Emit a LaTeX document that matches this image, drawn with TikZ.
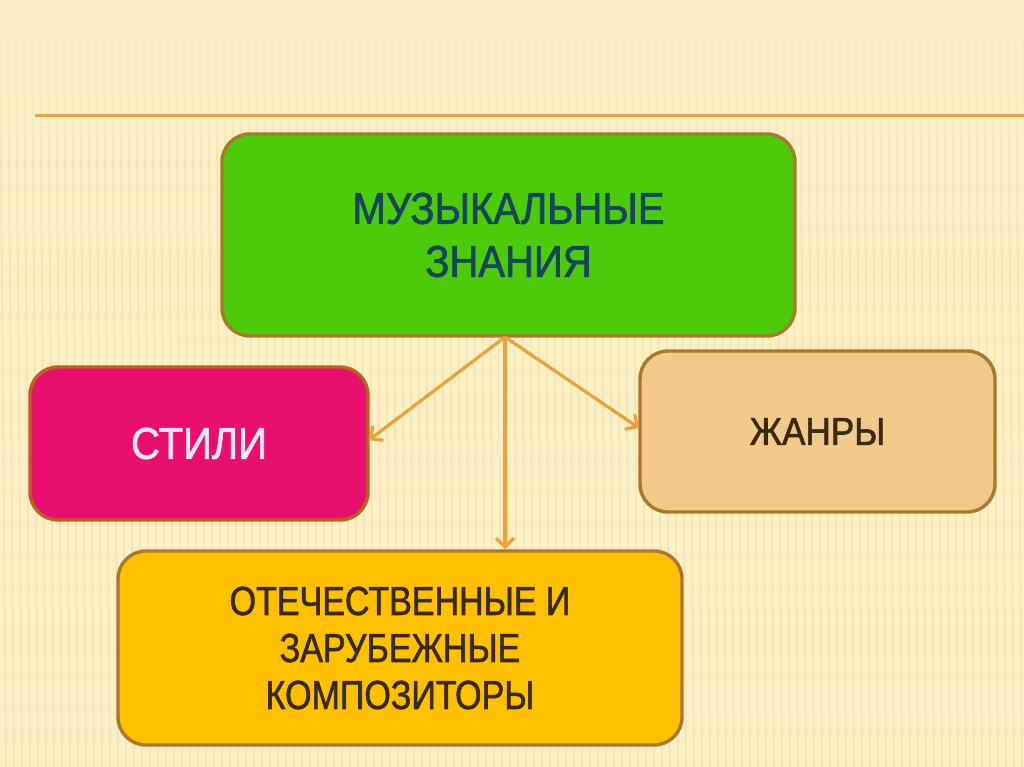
\documentclass[tikz,border=0pt]{standalone}
\usepackage{fontspec}
\setmainfont{Liberation Sans}
\newfontfamily\narrowa[FakeStretch=0.9,FakeBold=1.5]{Liberation Sans}
\newfontfamily\narrowb[FakeStretch=0.84,FakeBold=1.5]{Liberation Sans}
\usetikzlibrary{arrows.meta,calc,fadings}
\tikzfading[name=fadedown, top color=transparent!0, bottom color=transparent!100]
\definecolor{bgcream}{HTML}{FBEFC6}
\definecolor{stripe}{HTML}{EAD79C}
\definecolor{rulecol}{HTML}{E3A649}
\definecolor{boxedge}{HTML}{A8782C}
\definecolor{topgreen}{HTML}{4CCB0A}
\definecolor{stilipink}{HTML}{E80F6E}
\definecolor{zhanrytan}{HTML}{F2C98A}
\definecolor{compyellow}{HTML}{FFC000}
\definecolor{arrowcol}{HTML}{E9A33A}
\definecolor{navytext}{HTML}{17465A}
\definecolor{browntext}{HTML}{3A2A0C}
\definecolor{pinkwhite}{HTML}{FFE6F2}
\tikzset{
  box/.style={draw=boxedge, line width=3.4pt, rounded corners=28pt, align=center, inner sep=0pt},
  link/.style={draw=arrowcol, line width=3.2pt, -{Straight Barb[length=9pt,width=18pt,line width=3.2pt]}},
}
\begin{document}
\begin{tikzpicture}[x=1pt,y=-1pt]
\useasboundingbox (0,0) rectangle (1024,767);
\fill[bgcream] (0,0) rectangle (1024,767);
\foreach \i in {0,8,...,1024}{
  \draw[stripe, line width=1.6pt, opacity=0.45] (\i,40) -- (\i+6,767);
}
\fill[bgcream, path fading=fadedown] (0,0) rectangle (1024,200);
\draw[rulecol, line width=3pt] (35,116) -- (1024,116);

\node[box, fill=topgreen, minimum width=573pt, minimum height=202pt,
      text=navytext, font=\narrowa\fontsize{44.5}{53}\selectfont] (top) at (508.5,235) {МУЗЫКАЛЬНЫЕ\\ЗНАНИЯ};
\node[box, draw=boxedge!80!red, fill=stilipink, minimum width=338pt, minimum height=153pt,
      text=pinkwhite, font=\narrowa\fontsize{44.5}{53}\selectfont] (stili) at (199,443.5) {СТИЛИ};
\node[box, fill=zhanrytan, minimum width=355pt, minimum height=161pt,
      text=browntext, font=\narrowa\fontsize{39}{48}\selectfont] (zhanry) at (817.5,431.5) {ЖАНРЫ};
\node[box, fill=compyellow, minimum width=564pt, minimum height=194pt,
      text=browntext, font=\narrowb\fontsize{40.5}{47}\selectfont] (comp) at (400,648) {ОТЕЧЕСТВЕННЫЕ И\\ЗАРУБЕЖНЫЕ\\КОМПОЗИТОРЫ};

\coordinate (src) at (505,337);
\coordinate (stiliend) at (369,440);
\coordinate (zhanryend) at (639,428);
\draw[link] (src) -- (stiliend);
\draw[link] (src) -- (zhanryend);
\draw[link] (src) -- (src |- comp.north);
\end{tikzpicture}
\end{document}
